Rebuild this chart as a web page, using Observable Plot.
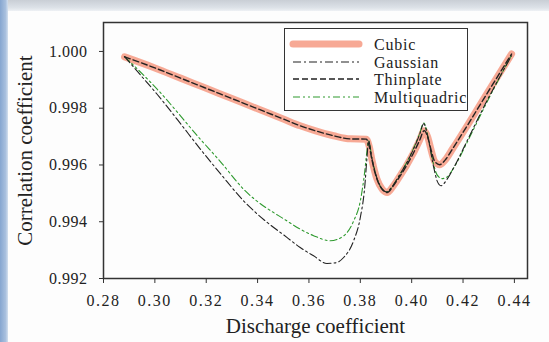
<!DOCTYPE html>
<html><head><meta charset="utf-8">
<script src="https://cdn.jsdelivr.net/npm/d3@7"></script>
<script src="https://cdn.jsdelivr.net/npm/@observablehq/plot@0.6"></script>
<style>
body{margin:0;background:#fff;}
#wrap{position:relative;width:549px;height:342px;overflow:hidden;background:#fdfdfd;font-family:"Liberation Serif","DejaVu Serif",serif;}
#topbar{position:absolute;left:0;top:0;width:549px;height:11px;background:linear-gradient(to bottom,#c9ced5,#dde2e8 70%,#eef1f4);}
#leftbar{position:absolute;left:0;top:0;width:8px;height:342px;background:linear-gradient(to right,#86a6d0,#a9c0de 70%,#d4e0ee);}
#chart{position:absolute;left:0;top:0;}
#legend{position:absolute;left:284px;top:28px;width:182px;height:81px;border:1.5px solid #333;background:#fff;}
#legend svg{position:absolute;left:0;top:0;}
#chart svg, #chart svg g, #chart svg text{font-family:"Liberation Serif","DejaVu Serif",serif !important;}
g[aria-label="x-axis tick label"] text{letter-spacing:1.5px;}
g[aria-label="y-axis tick label"] text{letter-spacing:0.5px;}
</style></head>
<body><div id="wrap"><div id="topbar"></div><div id="leftbar"></div><div id="chart"></div><div id="legend"></div></div>
<script>
// X ticks / Y ticks
const xTicks = [0.28,0.30,0.32,0.34,0.36,0.38,0.40,0.42,0.44];
const yTicks = [0.992,0.994,0.996,0.998,1.000];
const seriesNames = ["Cubic","Gaussian","Thinplate","Multiquadric"];

// Cubic (Thinplate identical)
const cubicX = [0.2882,0.300,0.310,0.320,0.330,0.340,0.350,0.3566,0.362,0.3696,0.3761,0.3823,0.3835,0.3846,0.3865,0.3885,0.3905,0.3925,0.3943,0.4008,0.4030,0.4049,0.4062,0.4075,0.4090,0.4109,0.4130,0.4160,0.4216,0.4280,0.4389];
const cubicY = [0.99981,0.99942,0.99906,0.99870,0.99834,0.99798,0.99762,0.99738,0.99722,0.99703,0.99692,0.99691,0.99665,0.99615,0.99550,0.99515,0.99503,0.99522,0.99545,0.99644,0.99685,0.99721,0.99700,0.99655,0.99612,0.99601,0.99617,0.99658,0.99738,0.99832,0.99991];

const gaussX = [0.2882,0.2943,0.3008,0.3091,0.3177,0.3262,0.3345,0.3430,0.3514,0.3566,0.3618,0.3670,0.3703,0.3735,0.3774,0.3800,0.3817,0.3826,0.3832,0.3846,0.3865,0.3885,0.3903,0.3925,0.3943,0.4008,0.4030,0.4047,0.4066,0.4086,0.4099,0.4114,0.4138,0.4164,0.4216,0.4280,0.4389];
const gaussY = [0.99982,0.99918,0.99850,0.99756,0.99656,0.99562,0.99474,0.99403,0.99345,0.99309,0.99280,0.99253,0.99255,0.99274,0.99333,0.99415,0.99521,0.99626,0.99685,0.99620,0.99553,0.99515,0.99505,0.99525,0.99550,0.99658,0.99705,0.99745,0.99685,0.99591,0.99544,0.99527,0.99550,0.99591,0.99685,0.99803,0.99985];

const multiX = [0.2882,0.3008,0.3177,0.3255,0.3345,0.3514,0.3566,0.3618,0.3683,0.3735,0.3774,0.3800,0.3816,0.3826,0.3832,0.3846,0.3865,0.3885,0.3903,0.3925,0.3943,0.4008,0.4030,0.4047,0.4066,0.4086,0.4099,0.4118,0.4138,0.4164,0.4216,0.4280,0.4389];
const multiY = [0.99982,0.99868,0.99691,0.99612,0.99515,0.99403,0.99374,0.99351,0.99333,0.99350,0.99403,0.99473,0.99568,0.99650,0.99685,0.99620,0.99553,0.99515,0.99505,0.99525,0.99550,0.99660,0.99708,0.99748,0.99690,0.99600,0.99565,0.99552,0.99558,0.99590,0.99680,0.99798,0.99988];

const toRows = (xs, ys) => xs.map((x,i)=>({x, y: ys[i]}));
const cubic = toRows(cubicX, cubicY);
const gauss = toRows(gaussX, gaussY);
const multi = toRows(multiX, multiY);

const chart = Plot.plot({
  width: 549, height: 342,
  marginLeft: 103, marginRight: 22, marginTop: 22, marginBottom: 64,
  style: {fontFamily: '"Liberation Serif", "DejaVu Serif", serif', background: "transparent", color: "#222"},
  x: {domain: [0.28, 0.4451]},
  y: {domain: [0.992, 1.00102]},
  marks: [
    Plot.line(cubic, {x:"x", y:"y", stroke:"#f6a089", strokeWidth:7, strokeOpacity:0.9, curve:"monotone-x"}),
    Plot.line(multi, {x:"x", y:"y", stroke:"#2f9a2f", strokeWidth:1.1, strokeDasharray:"7,3,2,3,2,3", curve:"monotone-x"}),
    Plot.line(gauss, {x:"x", y:"y", stroke:"#222", strokeWidth:1.1, strokeDasharray:"8,3,2,3", curve:"monotone-x"}),
    Plot.line(cubic, {x:"x", y:"y", stroke:"#222", strokeWidth:1.4, strokeDasharray:"6,3", curve:"monotone-x"}),
    Plot.frame({stroke:"#333", strokeWidth:1.5}),
    Plot.axisX({ticks: xTicks, tickFormat: d3.format(".2f"), tickSize: 5, tickPadding: 11, fontSize: 16, label: null, stroke:"#333"}),
    Plot.axisY({ticks: yTicks, tickFormat: d3.format(".3f"), tickSize: 4, tickPadding: 12, fontSize: 16, label: null, stroke:"#333"}),
    Plot.text(["Discharge coefficient"], {frameAnchor:"bottom", textAnchor:"middle", dy: 54, fontSize: 21, fill:"#222"}),
    Plot.text(["Correlation coefficient"], {frameAnchor:"left", textAnchor:"middle", dx: -78, rotate: -90, fontSize: 21, fill:"#222"})
  ]
});
d3.select(chart).selectAll("text").attr("font-family", '"Liberation Serif", "DejaVu Serif", serif');
document.getElementById("chart").appendChild(chart);

// Legend
const styles = [
  {stroke:"#f6a089", w:7, dash:null, op:0.9},
  {stroke:"#222", w:1.1, dash:"8,3,2,3"},
  {stroke:"#222", w:1.3, dash:"6,3"},
  {stroke:"#2f9a2f", w:1.1, dash:"7,3,2,3,2,3"}
];
const rowsY = [15, 33, 50, 68];
const lsvg = d3.select("#legend").append("svg").attr("width",182).attr("height",81);
seriesNames.forEach((name,i)=>{
  const s = styles[i];
  const ln = lsvg.append("line").attr("x1",8).attr("x2",74).attr("y1",rowsY[i]).attr("y2",rowsY[i])
    .attr("stroke",s.stroke).attr("stroke-width",s.w).attr("stroke-linecap", i===0?"round":"butt");
  if (s.dash) ln.attr("stroke-dasharray", s.dash);
  if (s.op) ln.attr("stroke-opacity", s.op);
  lsvg.append("text").attr("x",89).attr("y",rowsY[i]).attr("dy","0.35em")
    .attr("font-family",'"Liberation Serif", "DejaVu Serif", serif').attr("font-size",16).attr("fill","#222")
    .attr("letter-spacing","0.8px").text(name);
});
</script></body></html>
